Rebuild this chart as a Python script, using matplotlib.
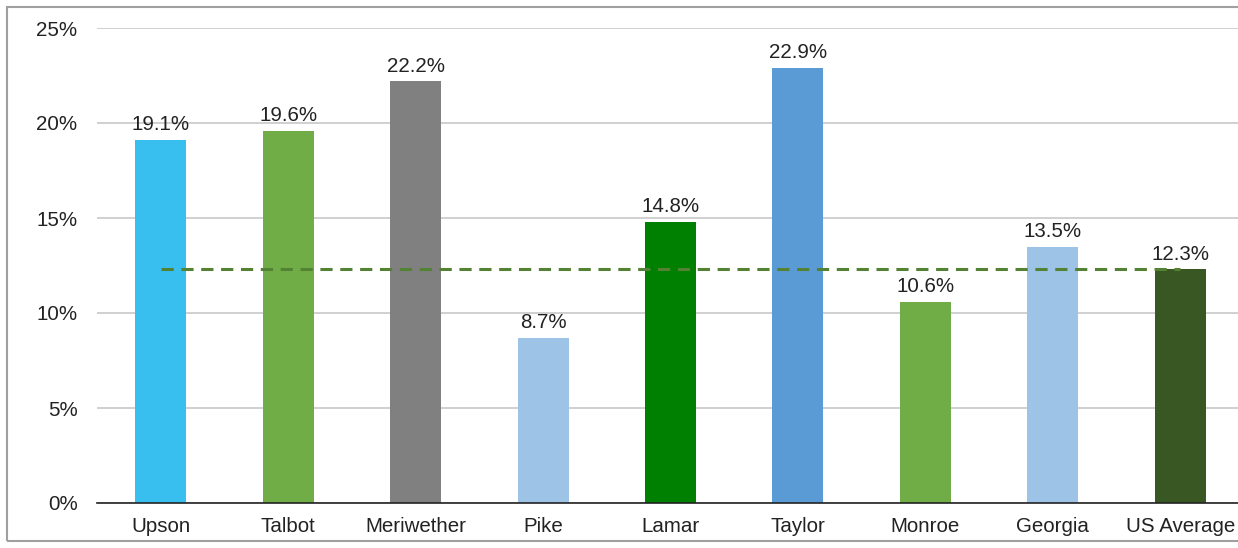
import matplotlib.pyplot as plt
import matplotlib.patches as mpatches
from matplotlib.ticker import FuncFormatter

plt.rcParams['font.family'] = ['Liberation Sans', 'DejaVu Sans']

counties = ['Upson', 'Talbot', 'Meriwether', 'Pike', 'Lamar', 'Taylor',
            'Monroe', 'Georgia', 'US Average']
rates = [19.1, 19.6, 22.2, 8.7, 14.8, 22.9, 10.6, 13.5, 12.3]
us_avg = 12.3
colors = ['#38BEEF', '#70AD47', '#808080', '#9DC3E6', '#008000',
          '#5B9BD5', '#70AD47', '#9DC3E6', '#385723']

fig = plt.figure(figsize=(12.38, 5.48), dpi=100)
ax = fig.add_axes([97/1238, 1-503/548, 1147/1238, 475/548])

x = list(range(len(counties)))
ax.bar(x, rates, width=0.4, color=colors, zorder=3)
for xi, v in zip(x, rates):
    ax.text(xi, v + 0.3, f'{v:.1f}%', ha='center', va='bottom',
            fontsize=14.8, color='#222222', zorder=4)

# US average reference line across all bars
ax.plot([x[0], x[-1]], [us_avg, us_avg], color='#548235', lw=2.2,
        ls=(0, (4, 2.5)), zorder=5)

ax.set_xlim(-0.5, len(counties) - 0.5)
ax.set_ylim(0, 25)
ax.set_yticks(range(0, 26, 5))
ax.yaxis.set_major_formatter(FuncFormatter(lambda v, p: f'{v:.0f}%'))
ax.set_xticks(x)
ax.set_xticklabels(counties)
ax.tick_params(axis='both', length=0, labelsize=14.8, colors='#222222')
ax.tick_params(axis='y', pad=14)
ax.tick_params(axis='x', pad=10)
ax.grid(axis='y', color='#D0D0D0', lw=1.4, zorder=0)
for s in ['top', 'right', 'left']:
    ax.spines[s].set_visible(False)
ax.spines['bottom'].set_color('#222222')
ax.spines['bottom'].set_linewidth(1.2)
ax.spines['bottom'].set_zorder(6)

# outer chart border
fig.patches.append(mpatches.Rectangle((7/1238, 7/548), 1.1, 534/548,
                                      transform=fig.transFigure, fill=False,
                                      edgecolor='#A0A0A0', lw=1.5))

fig.savefig('out.png', dpi=100)
